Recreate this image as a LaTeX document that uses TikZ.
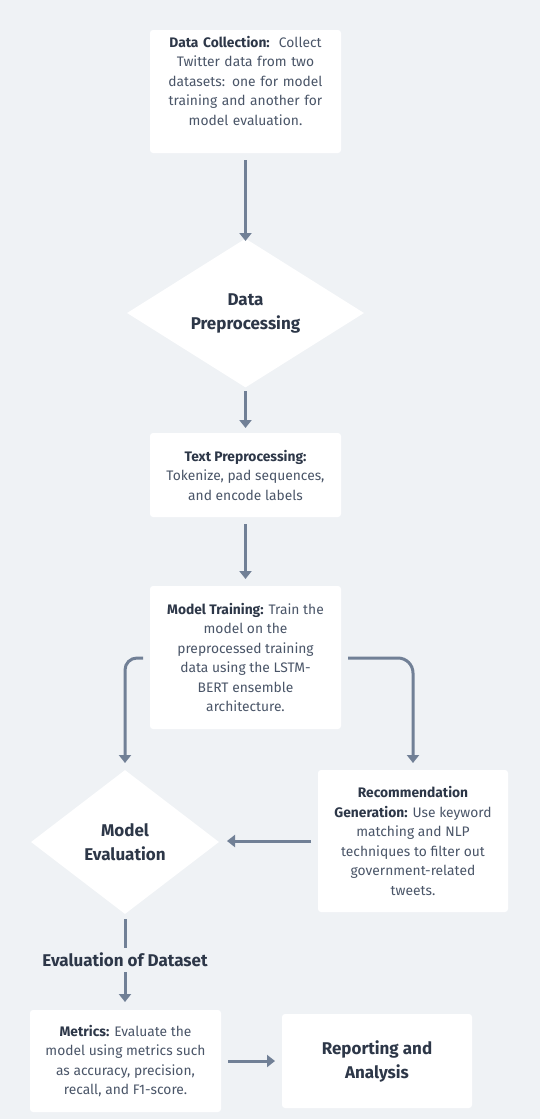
\documentclass[tikz,border=0pt]{standalone}
\usepackage{fontspec}
\setmainfont{Fira Sans}
\usetikzlibrary{shapes.geometric,arrows.meta}
\definecolor{bg}{HTML}{EFF2F5}
\definecolor{arr}{HTML}{718096}
\definecolor{hd}{HTML}{2D3748}
\definecolor{tx}{HTML}{4A5568}
\tikzset{
  card/.style={draw=none,fill=white,rounded corners=3pt,inner sep=0pt,align=center,text=tx,font=\fontsize{13.8}{19.5}\selectfont},
  dia/.style={diamond,draw=none,fill=white,inner sep=0pt,align=center,text=hd,font=\fontsize{17}{24}\selectfont\bfseries},
  flow/.style={draw=arr,line width=3pt,-{Triangle[width=12pt,length=8pt]}},
  plainline/.style={draw=arr,line width=3pt},
}
\newcommand{\hb}[1]{{\bfseries\color{hd}#1}}
\begin{document}
\begin{tikzpicture}[x=1pt,y=-1pt]
\fill[bg] (0,0) rectangle (540,1119);
\useasboundingbox (0,0) rectangle (540,1119);
% boxes
\node[card,minimum width=191pt,minimum height=123pt] (dc) at (245.5,91.5) {};
\node[card,text width=188pt,anchor=north] (dct) at (245.5,36) {\hb{Data Collection:}\ \ Collect\\Twitter data from two\\datasets: one for model\\training and another for\\model evaluation.};
\node[dia,minimum width=237pt,minimum height=142pt] (dp) at (245.5,313) {Data\\Preprocessing};
\node[card,minimum width=191pt,minimum height=84pt] (tp) at (245.5,475) {\hb{Text Preprocessing:}\\Tokenize, pad sequences,\\and encode labels};
\node[card,minimum width=191pt,minimum height=143pt] (mt) at (245.5,657.5) {\hb{Model Training:} Train the\\model on the\\preprocessed training\\data using the LSTM-\\BERT ensemble\\architecture.};
\node[dia,minimum width=188pt,minimum height=144pt] (me) at (125,842) {Model\\Evaluation};
\node[card,minimum width=190pt,minimum height=142pt] (rg) at (413,841) {\hb{Recommendation}\\\hb{Generation:} Use keyword\\matching and NLP\\techniques to filter out\\government-related\\tweets.};
\node[text=hd,font=\fontsize{17}{20}\selectfont\bfseries,inner sep=0pt] (ed) at (125,960) {Evaluation of Dataset};
\node[card,minimum width=191pt,minimum height=102pt] (mx) at (125.5,1061) {\hb{Metrics:} Evaluate the\\model using metrics such\\as accuracy, precision,\\recall, and F1-score.};
\node[card,minimum width=190pt,minimum height=94pt,text=hd,font=\fontsize{17}{24}\selectfont\bfseries] (ra) at (377,1061) {Reporting and\\Analysis};
% connectors
\coordinate (a1s) at (245.5,160);
\coordinate (a1e) at (245.5,241);
\draw[flow] (a1s) -- (a1e);
\coordinate (a2s) at (245.5,391);
\coordinate (a2e) at (245.5,428);
\draw[flow] (a2s) -- (a2e);
\coordinate (a3s) at (245.5,524);
\coordinate (a3e) at (245.5,579);
\draw[flow] (a3s) -- (a3e);
\coordinate (l1) at (143,658);
\coordinate (l2) at (125,658);
\coordinate (l3) at (125,763);
\draw[flow,rounded corners=12pt] (l1) -- (l2) -- (l3);
\coordinate (r1) at (348,658);
\coordinate (r2) at (413,658);
\coordinate (r3) at (413,763);
\draw[flow,rounded corners=15pt] (r1) -- (r2) -- (r3);
\coordinate (h1) at (311,841);
\coordinate (h2) at (227,841);
\draw[flow] (h1) -- (h2);
\coordinate (v1) at (125,919);
\coordinate (v2) at (125,948);
\draw[plainline] (v1) -- (v2);
\coordinate (v3) at (125,972);
\coordinate (v4) at (125,1002);
\draw[flow] (v3) -- (v4);
\coordinate (m1) at (228,1061);
\coordinate (m2) at (275,1061);
\draw[flow] (m1) -- (m2);
\end{tikzpicture}
\end{document}
